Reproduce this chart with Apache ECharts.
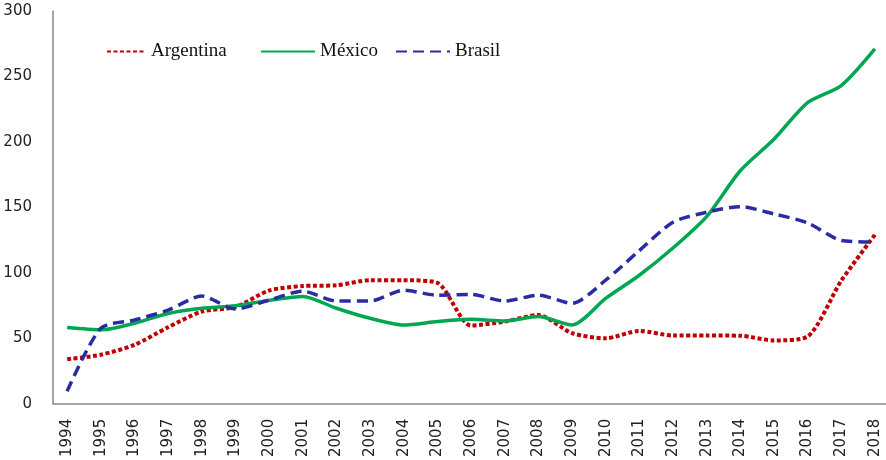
<!DOCTYPE html>
<html>
<head>
<meta charset="utf-8">
<script src="https://cdn.jsdelivr.net/npm/echarts@6/dist/echarts.min.js"></script>
<style>
html,body{margin:0;padding:0;background:#fff;}
#chart{width:886px;height:460px;}
</style>
</head>
<body>
<div id="chart"></div>
<script>
const years = ['1994','1995','1996','1997','1998','1999','2000','2001','2002','2003','2004','2005','2006','2007','2008','2009','2010','2011','2012','2013','2014','2015','2016','2017','2018'];
const argentina = [34, 37.5, 45, 58.5, 70.5, 74, 86.5, 90, 90.5, 94.4, 94.4, 92.4, 59.8, 62.8, 67.8, 54, 50, 55.7, 52.2, 52.2, 52, 48.4, 51.4, 94, 129];
const mexico = [58.2, 56.5, 61.5, 69, 73, 75, 79, 82, 73, 65.3, 60.2, 62.8, 64.5, 63.3, 66.6, 60.2, 80.5, 98.2, 119, 143, 178, 202, 230, 243, 271];
const brasil = [9.6, 57.7, 64, 71.6, 82.3, 72.4, 79.2, 86, 78.5, 78.5, 86.8, 83, 83.5, 78.5, 83, 76.7, 94.4, 117, 138.7, 146.3, 150.6, 145, 138.2, 124.8, 123.6];
const yTicks = [0, 50, 100, 150, 200, 250, 300];

const idx = years.map((y, i) => i);
const pairs = arr => arr.map((v, i) => [i, v]);

const chart = echarts.init(document.getElementById('chart'));
const legendText = {fontFamily: 'Liberation Serif', fontSize: 19, color: '#111'};
const legendCommon = {top: 37, itemHeight: 14, textStyle: legendText, itemStyle: {opacity: 0}, inactiveColor: '#ccc'};
chart.setOption({
  animation: false,
  grid: {left: 53, right: 0, top: 11, bottom: 54, containLabel: false},
  legend: [
    Object.assign({data: ['Argentina'], left: 101, itemWidth: 39}, legendCommon),
    Object.assign({data: ['México'], left: 255, itemWidth: 54}, legendCommon),
    Object.assign({data: ['Brasil'], left: 390, itemWidth: 54}, legendCommon)
  ],
  xAxis: {
    type: 'value',
    min: -0.42,
    max: 24.33,
    axisLine: {show: true, onZero: false, lineStyle: {color: '#888', width: 1.5}},
    axisTick: {show: false},
    splitLine: {show: false},
    axisLabel: {
      customValues: idx,
      formatter: v => years[Math.round(v)],
      rotate: 90, fontFamily: 'DejaVu Sans', fontSize: 15, color: '#222', margin: 15
    }
  },
  yAxis: {
    type: 'value',
    min: yTicks[0],
    max: yTicks[yTicks.length - 1],
    interval: 50,
    axisLine: {show: true, onZero: false, lineStyle: {color: '#888', width: 1.5}},
    axisTick: {show: false},
    splitLine: {show: false},
    axisLabel: {fontFamily: 'DejaVu Sans', fontSize: 15, color: '#222', margin: 21}
  },
  series: [
    {name: 'Argentina', type: 'line', data: pairs(argentina), smooth: 0.25, symbol: 'none',
     itemStyle: {color: '#C00000'},
     lineStyle: {color: '#C00000', width: 4, type: [4, 2.5]}},
    {name: 'México', type: 'line', data: pairs(mexico), smooth: 0.25, symbol: 'none',
     itemStyle: {color: '#00A651'},
     lineStyle: {color: '#00A651', width: 3.5, type: 'solid'}},
    {name: 'Brasil', type: 'line', data: pairs(brasil), smooth: 0.25, symbol: 'none',
     itemStyle: {color: '#2B2BA6'},
     lineStyle: {color: '#2B2BA6', width: 3.5, type: [11, 6]}}
  ]
});
</script>
</body>
</html>
